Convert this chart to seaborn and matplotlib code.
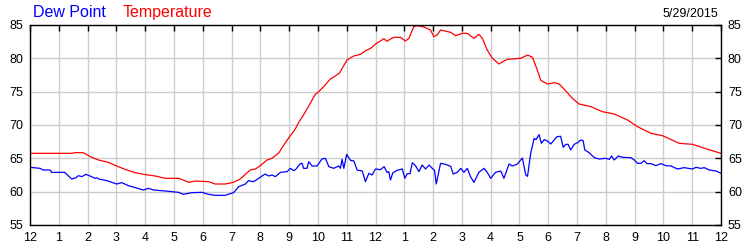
import matplotlib
matplotlib.use("Agg")
import matplotlib.pyplot as plt
import seaborn as sns
import pandas as pd

# ---- data (hours since midnight, degrees F) ----
temp_hours = [0.0, 1.45, 1.55, 1.85, 2.14, 2.38, 2.72, 3.01, 3.3, 3.65, 3.94, 4.35, 4.7, 5.16,
              5.4, 5.51, 5.74, 6.2, 6.43, 6.78, 7.07, 7.3, 7.48, 7.65, 7.83, 8.0, 8.23, 8.4,
              8.64, 8.8, 9.04, 9.2, 9.35, 9.5, 9.7, 9.91, 10.0, 10.2, 10.43, 10.55, 10.75,
              11.01, 11.24, 11.48, 11.65, 11.83, 12.0, 12.17, 12.29, 12.4, 12.52, 12.64,
              12.87, 13.04, 13.16, 13.33, 13.45, 13.68, 13.91, 14.03, 14.14, 14.26, 14.61,
              14.78, 15.01, 15.19, 15.42, 15.59, 15.71, 15.88, 16.06, 16.29, 16.46, 16.58,
              17.04, 17.28, 17.45, 17.6, 17.74, 17.97, 18.2, 18.38, 18.61, 18.84, 19.07,
              19.48, 19.88, 20.29, 20.75, 21.1, 21.57, 21.97, 22.55, 23.01, 23.54, 24.0]
temp_values = [65.75, 65.75, 65.85, 65.85, 65.15, 64.75, 64.4, 63.85, 63.35, 62.85, 62.6, 62.35,
               62.0, 62.0, 61.6, 61.4, 61.6, 61.5, 61.15, 61.15, 61.4, 61.9, 62.6, 63.25, 63.4,
               63.9, 64.75, 65.0, 65.8, 66.9, 68.4, 69.3, 70.5, 71.5, 73.0, 74.6, 74.9, 75.75,
               76.9, 77.2, 77.8, 79.75, 80.35, 80.6, 81.15, 81.5, 82.15, 82.6, 82.95, 82.55,
               82.9, 83.15, 83.15, 82.6, 83.0, 84.75, 84.9, 84.7, 84.25, 83.25, 83.5, 84.25,
               83.9, 83.4, 83.75, 83.75, 83.0, 83.6, 83.0, 81.25, 80.0, 79.15, 79.6, 79.85,
               80.0, 80.5, 80.15, 78.5, 76.7, 76.15, 76.35, 76.15, 75.1, 74.0, 73.15, 72.75,
               72.0, 71.65, 70.75, 69.75, 68.75, 68.4, 67.25, 67.1, 66.35, 65.75]

dew_hours = [0.0, 0.35, 0.45, 0.7, 0.75, 1.2, 1.45, 1.6, 1.68, 1.8, 1.94, 2.14, 2.25, 2.32, 2.38,
             2.67, 3.01, 3.19, 3.42, 3.94, 4.12, 4.29, 4.7, 5.16, 5.33, 5.62, 5.97, 6.2, 6.43,
             6.78, 7.07, 7.25, 7.48, 7.59, 7.77, 8.06, 8.17, 8.29, 8.41, 8.52, 8.7, 8.93, 9.04,
             9.16, 9.22, 9.39, 9.45, 9.5, 9.62, 9.68, 9.8, 9.97, 10.14, 10.26, 10.38, 10.55,
             10.72, 10.78, 10.84, 10.9, 11.0, 11.13, 11.25, 11.36, 11.54, 11.65, 11.77, 11.88,
             12.0, 12.17, 12.3, 12.4, 12.46, 12.52, 12.6, 12.75, 12.93, 13.02, 13.1, 13.2,
             13.28, 13.39, 13.51, 13.62, 13.74, 13.86, 13.97, 14.05, 14.11, 14.26, 14.43,
             14.61, 14.7, 14.84, 14.96, 15.07, 15.19, 15.3, 15.42, 15.59, 15.77, 15.88, 16.0,
             16.17, 16.35, 16.46, 16.64, 16.75, 16.93, 17.1, 17.22, 17.28, 17.39, 17.51, 17.57,
             17.68, 17.76, 17.86, 17.97, 18.09, 18.3, 18.43, 18.52, 18.61, 18.69, 18.78, 18.9,
             19.02, 19.13, 19.21, 19.27, 19.42, 19.6, 19.77, 20.0, 20.12, 20.2, 20.29, 20.43,
             20.58, 20.87, 20.99, 21.1, 21.22, 21.33, 21.43, 21.57, 21.74, 21.91, 22.09, 22.26,
             22.49, 22.72, 23.01, 23.13, 23.3, 23.42, 23.59, 23.83, 24.0]
dew_values = [63.65, 63.5, 63.25, 63.25, 62.9, 62.9, 61.9, 62.1, 62.4, 62.25, 62.6, 62.25, 62.0,
              62.1, 61.9, 61.65, 61.15, 61.35, 60.9, 60.25, 60.5, 60.25, 60.1, 59.9, 59.6, 59.85,
              59.9, 59.6, 59.45, 59.45, 59.85, 60.75, 61.15, 61.65, 61.5, 62.35, 62.65, 62.35,
              62.5, 62.25, 62.9, 63.0, 63.5, 63.15, 63.3, 64.2, 64.25, 63.5, 63.5, 64.5, 63.85,
              63.85, 64.9, 65.0, 63.75, 63.5, 63.85, 63.5, 64.85, 63.5, 65.6, 64.7, 64.6, 63.25,
              63.1, 61.5, 62.75, 62.5, 63.4, 63.3, 63.75, 62.9, 63.0, 61.75, 62.8, 63.2, 63.4,
              62.0, 62.7, 62.7, 64.35, 63.9, 63.0, 64.0, 63.4, 64.0, 63.5, 63.2, 61.15, 64.25,
              64.1, 63.8, 62.65, 62.9, 63.5, 62.9, 63.5, 62.25, 61.4, 62.9, 63.5, 62.9, 62.0,
              62.9, 63.1, 62.0, 64.15, 63.85, 64.15, 65.05, 62.5, 62.3, 65.75, 68.0, 67.8, 68.55,
              67.25, 67.8, 67.6, 67.15, 68.25, 68.3, 66.65, 67.1, 67.1, 66.25, 67.1, 67.35,
              67.75, 67.65, 66.25, 65.85, 65.1, 64.9, 65.0, 64.85, 65.35, 64.75, 65.35, 65.15,
              65.1, 64.75, 64.25, 64.25, 64.65, 64.2, 64.2, 63.9, 64.2, 63.9, 63.85, 63.4, 63.6,
              63.4, 63.65, 63.5, 63.6, 63.25, 63.1, 62.75]

hour_labels = ["12", "1", "2", "3", "4", "5", "6", "7", "8", "9", "10", "11",
               "12", "1", "2", "3", "4", "5", "6", "7", "8", "9", "10", "11", "12"]
y_ticks = [55, 60, 65, 70, 75, 80, 85]
legend_names = ["Dew Point", "Temperature"]
date_text = "5/29/2015"

temp_df = pd.DataFrame({"hour": temp_hours, "value": temp_values})
dew_df = pd.DataFrame({"hour": dew_hours, "value": dew_values})

sns.set_theme(style="white")
plt.rcParams["font.family"] = ["Liberation Sans", "DejaVu Sans"]

fig = plt.figure(figsize=(7.5, 2.5), dpi=100)
ax = fig.add_axes([30 / 750, 25 / 250, 691 / 750, 200 / 250])

sns.lineplot(data=dew_df, x="hour", y="value", color="#0000ff", linewidth=0.9, ax=ax)
sns.lineplot(data=temp_df, x="hour", y="value", color="#ff0000", linewidth=0.9, ax=ax)

ax.set_xlim(0, 24)
ax.set_ylim(55, 85)
ax.set_xticks(range(25))
ax.set_xticklabels(hour_labels)
ax.set_yticks(y_ticks)
ax.set_yticklabels([str(v) for v in y_ticks])
ax.set_xlabel("")
ax.set_ylabel("")
ax.grid(True, color="#cccccc", linewidth=1.0)
ax.set_axisbelow(True)
for s in ax.spines.values():
    s.set_color("black")
    s.set_linewidth(1.0)
ax.tick_params(axis="both", which="both", direction="in", length=4, width=1, color="black",
               labelsize=9, labelcolor="black", top=True, right=True,
               labelright=True, labelleft=True, pad=5)

fig.text(33 / 750, 1 - 17 / 250, legend_names[0], color="#0000ff", fontsize=11.5,
         ha="left", va="baseline")
fig.text(123 / 750, 1 - 17 / 250, legend_names[1], color="#ff0000", fontsize=11.5,
         ha="left", va="baseline")
fig.text(718 / 750, 1 - 16.7 / 250, date_text, color="black", fontsize=9,
         ha="right", va="baseline")

fig.savefig("out.png", dpi=100)
